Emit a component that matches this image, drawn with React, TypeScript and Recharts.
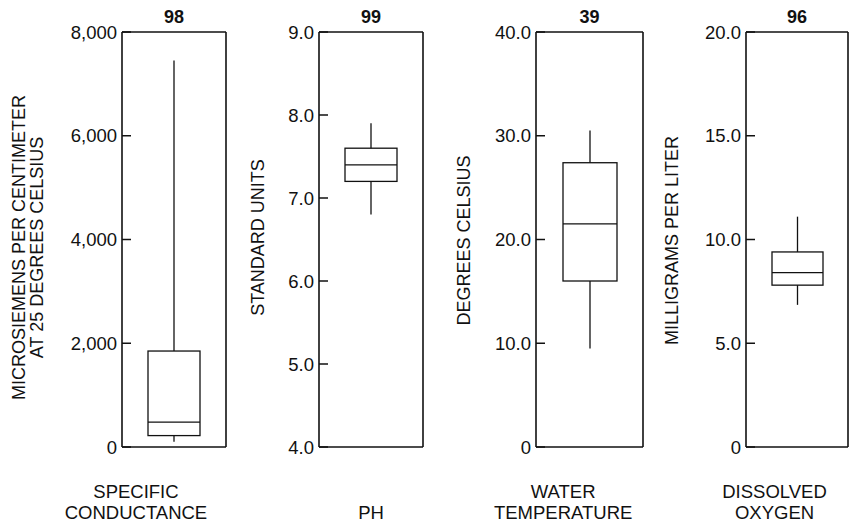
import React from 'react'
import { ComposedChart, Bar, XAxis, YAxis } from 'recharts'

// one box plot per water-quality property
const names = [['SPECIFIC', 'CONDUCTANCE'], ['PH'], ['WATER', 'TEMPERATURE'], ['DISSOLVED', 'OXYGEN']]
const counts = ['98', '99', '39', '96']
const mins = [100, 6.8, 9.5, 6.85]
const q1s = [220, 7.2, 16.0, 7.8]
const medians = [480, 7.4, 21.5, 8.4]
const q3s = [1850, 7.6, 27.4, 9.4]
const maxs = [7450, 7.9, 30.5, 11.1]

const unitTitles = [
  ['MICROSIEMENS PER CENTIMETER', 'AT 25 DEGREES CELSIUS'],
  ['STANDARD UNITS'],
  ['DEGREES CELSIUS'],
  ['MILLIGRAMS PER LITER'],
]
const domains = [[0, 8000], [4, 9], [0, 40], [0, 20]]
const majorTicks = [
  [0, 2000, 4000, 6000, 8000],
  [4, 5, 6, 7, 8, 9],
  [0, 10, 20, 30, 40],
  [0, 5, 10, 15, 20],
]
const majorLabels = [
  ['0', '2,000', '4,000', '6,000', '8,000'],
  ['4.0', '5.0', '6.0', '7.0', '8.0', '9.0'],
  ['0', '10.0', '20.0', '30.0', '40.0'],
  ['0', '5.0', '10.0', '15.0', '20.0'],
]
const minorTicks = [
  [1000, 3000, 5000, 7000],
  [4.2, 4.4, 4.6, 4.8, 5.2, 5.4, 5.6, 5.8, 6.2, 6.4, 6.6, 6.8, 7.2, 7.4, 7.6, 7.8, 8.2, 8.4, 8.6, 8.8],
  [2, 4, 6, 8, 12, 14, 16, 18, 22, 24, 26, 28, 32, 34, 36, 38],
  [1, 2, 3, 4, 6, 7, 8, 9, 11, 12, 13, 14, 16, 17, 18, 19],
]

// layout
const plotLefts = [122, 319, 536, 746]
const plotWidths = [104, 104, 107, 102]
const titleXs = [[19, 37], [258], [464], [672]]
const titleDy = [8, -2, 1, 1]
const AXIS_W = 117 // label axis; a 1px minor-tick axis sits next to it
const LEFT_W = AXIS_W + 1
const TOP_H = 32
const BOTTOM_H = 83
const FONT = '"Liberation Sans", Arial, Helvetica, sans-serif'
const INK = '#111'

function LeftTick(props: any) {
  const { y, payload, panel } = props
  const i = majorTicks[panel].indexOf(payload.value)
  if (i < 0) return <g />
  return (
    <text x={LEFT_W - 5} y={y} dy="0.36em" textAnchor="end" fontSize={18.5} fontFamily={FONT} fill={INK}>
      {majorLabels[panel][i]}
    </text>
  )
}

const NoLabel = () => <g />

function CountTick(props: any) {
  const { x, y, payload } = props
  return (
    <text x={x} y={y - 9} textAnchor="middle" fontSize={18} fontWeight="bold" fontFamily={FONT} fill={INK}>
      {payload.value}
    </text>
  )
}

function NameTick(props: any) {
  const { x, y, panel } = props
  const lines = names[panel]
  return (
    <g>
      {lines.map((s, k) => (
        <text
          key={k}
          x={x}
          y={y + 72 - (lines.length - 1 - k) * 21}
          textAnchor="middle"
          fontSize={18.5}
          fontFamily={FONT}
          fill={INK}
        >
          {s}
        </text>
      ))}
    </g>
  )
}

function UnitTitle(props: any) {
  const { viewBox, panel, chartLeft } = props
  const cy = viewBox.y + viewBox.height / 2 + titleDy[panel]
  return (
    <g>
      {unitTitles[panel].map((s, k) => {
        const tx = titleXs[panel][k] - chartLeft
        return (
          <text
            key={k}
            x={tx}
            y={cy}
            transform={`rotate(-90, ${tx}, ${cy})`}
            textAnchor="middle"
            dominantBaseline="central"
            fontSize={18}
            fontFamily={FONT}
            fill={INK}
          >
            {s}
          </text>
        )
      })}
    </g>
  )
}

function BoxShape(props: any) {
  const { x, y, width, height, payload } = props
  const top = Math.min(y, y + height)
  const h = Math.abs(height)
  const k = h / (payload.q3 - payload.q1)
  const toY = (v: number) => top + (payload.q3 - v) * k
  const cx = x + width / 2
  return (
    <g stroke={INK} strokeWidth={1.3} fill="none">
      <line x1={cx} x2={cx} y1={toY(payload.max)} y2={top} />
      <rect x={x} y={top} width={width} height={h} />
      <line x1={x} x2={x + width} y1={toY(payload.median)} y2={toY(payload.median)} />
      <line x1={cx} x2={cx} y1={top + h} y2={toY(payload.min)} />
    </g>
  )
}

function Panel({ panel }: { panel: number }) {
  const chartLeft = plotLefts[panel] - LEFT_W
  const width = LEFT_W + plotWidths[panel] + 2 + 4
  const data = [
    {
      name: names[panel].join(' '),
      count: counts[panel],
      min: mins[panel],
      q1: q1s[panel],
      median: medians[panel],
      q3: q3s[panel],
      max: maxs[panel],
    },
  ]
  const axisLine = { stroke: INK, strokeWidth: 1.6 }
  const tickLine = { stroke: INK, strokeWidth: 1.5 }
  return (
    <div style={{ position: 'absolute', left: chartLeft, top: 0 }}>
      <ComposedChart width={width} height={530} data={data} margin={{ top: 0, right: 4, bottom: 0, left: 0 }}>
        <XAxis
          dataKey="name"
          height={BOTTOM_H}
          axisLine={axisLine}
          tickLine={false}
          tickSize={0}
          tickMargin={0}
          tick={(p: any) => <NameTick {...p} panel={panel} />}
        />
        <XAxis
          xAxisId="top"
          dataKey="count"
          orientation="top"
          height={TOP_H}
          axisLine={axisLine}
          tickLine={false}
          tickSize={0}
          tickMargin={0}
          tick={(p: any) => <CountTick {...p} />}
        />
        {/* left frame: major ticks + labels, negative tickSize points them inward */}
        <YAxis
          type="number"
          width={AXIS_W}
          domain={domains[panel]}
          ticks={majorTicks[panel]}
          interval={0}
          axisLine={axisLine}
          tickLine={tickLine}
          tickSize={-9}
          tickMargin={0}
          tick={(p: any) => <LeftTick {...p} panel={panel} />}
          label={{ content: (p: any) => <UnitTitle {...p} panel={panel} chartLeft={chartLeft} /> }}
        />
        <YAxis
          yAxisId="lm"
          type="number"
          width={1}
          domain={domains[panel]}
          ticks={minorTicks[panel]}
          interval={0}
          axisLine={false}
          tickLine={tickLine}
          tickSize={-5}
          tick={NoLabel}
        />
        {/* right frame */}
        <YAxis
          yAxisId="r"
          orientation="right"
          type="number"
          width={1}
          domain={domains[panel]}
          ticks={majorTicks[panel]}
          interval={0}
          axisLine={axisLine}
          tickLine={tickLine}
          tickSize={-9}
          tick={NoLabel}
        />
        <YAxis
          yAxisId="rm"
          orientation="right"
          type="number"
          width={1}
          domain={domains[panel]}
          ticks={minorTicks[panel]}
          interval={0}
          axisLine={false}
          tickLine={tickLine}
          tickSize={-5}
          tick={NoLabel}
        />
        <Bar
          dataKey={(d: any) => [d.q1, d.q3]}
          barSize={Math.round(plotWidths[panel] / 2)}
          shape={(p: any) => <BoxShape {...p} />}
          isAnimationActive={false}
        />
      </ComposedChart>
    </div>
  )
}

export default function App() {
  return (
    <div
      style={{
        position: 'absolute',
        left: 0,
        top: 0,
        width: 852,
        height: 530,
        overflow: 'hidden',
        background: '#fff',
      }}
    >
      {[0, 1, 2, 3].map((i) => (
        <Panel key={i} panel={i} />
      ))}
    </div>
  )
}
